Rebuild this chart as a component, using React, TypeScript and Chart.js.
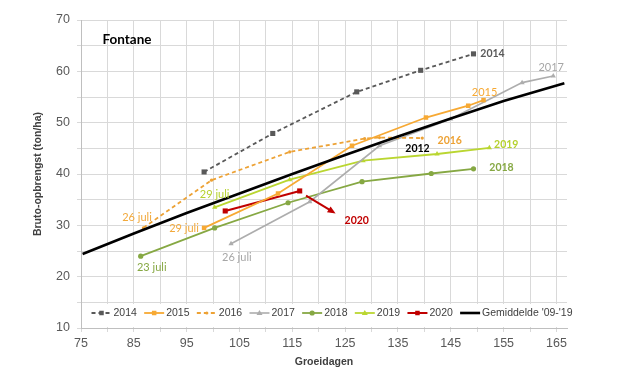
import React, { useEffect, useRef } from 'react';
import { Chart, registerables } from 'chart.js';
Chart.register(...registerables);

// ---- data ----
const days2014 = [98.3, 111.3, 127.2, 139.3, 149.3];
const yield2014 = [40.4, 47.9, 56.0, 60.2, 63.4];
const days2015 = [98.3, 112.3, 126.3, 140.3, 148.3, 151.2];
const yield2015 = [29.5, 36.2, 45.5, 51.0, 53.3, 54.4];
const days2016 = [86.8, 99.7, 114.5, 128.7, 131.5, 139.6];
const yield2016 = [29.5, 38.8, 44.3, 46.9, 47.1, 47.0];
const days2017 = [103.4, 118.3, 131.5, 145.0, 158.5, 164.4];
const yield2017 = [26.4, 34.6, 45.5, 50.7, 57.8, 59.1];
const days2018 = [86.3, 100.3, 114.2, 128.2, 141.3, 149.3];
const yield2018 = [24.0, 29.5, 34.4, 38.5, 40.1, 41.0];
const days2019 = [100.3, 114.5, 128.4, 142.4, 152.3];
const yield2019 = [33.5, 38.9, 42.6, 43.9, 45.1];
const days2020 = [102.3, 116.4];
const yield2020 = [32.8, 36.7];
const daysAvg = [75.3, 85, 95, 105, 115, 125, 135, 145, 155, 166.5];
const yieldAvg = [24.4, 28.4, 32.4, 36.2, 40.0, 43.7, 47.3, 50.8, 54.2, 57.7];

const seriesNames = ['2014', '2015', '2016', '2017', '2018', '2019', '2020', "Gemiddelde '09-'19"];
const xTickLabels = [75, 85, 95, 105, 115, 125, 135, 145, 155, 165];
const yTickLabels = [10, 20, 30, 40, 50, 60, 70];

// annotation texts and their data-space anchors
const noteTexts = ['Fontane', '2014', '2017', '2015', '2016', '2012', '2019', '2018', '2020', '26 juli', '29 juli', '29 juli', '23 juli', '26 juli'];
const noteDays = [83.7, 152.9, 164.0, 151.4, 144.8, 138.7, 155.5, 154.6, 127.2, 85.6, 100.3, 94.5, 88.4, 104.5];
const noteYields = [66.1, 63.4, 60.7, 55.9, 46.6, 45.0, 45.8, 41.2, 31.0, 31.5, 36.1, 29.4, 21.8, 23.7];
const arrow2020Days = [117.6, 123.2];
const arrow2020Yields = [35.8, 32.3];

// ---- styles ----
const seriesStyle = [
  { color: '#595959', dash: [4, 3], point: 'rect', r: 3.6, w: 1.8 },
  { color: '#F7A933', dash: [], point: 'rect', r: 3.2, w: 1.8 },
  { color: '#EDA235', dash: [4, 3], point: 'circle', r: 1.6, w: 1.8 },
  { color: '#ADADAD', dash: [], point: 'triangle', r: 3, w: 1.6 },
  { color: '#86A843', dash: [], point: 'circle', r: 2.6, w: 1.8 },
  { color: '#BAD631', dash: [], point: 'triangle', r: 3, w: 1.8 },
  { color: '#C00000', dash: [], point: 'rect', r: 3.6, w: 2 },
  { color: '#000000', dash: [], point: 'none', r: 0, w: 2.6 },
];
const noteStyle = [
  { color: '#000000', font: 'bold 13.5px Lato' },
  { color: '#595959', font: 'bold 10.5px Lato' },
  { color: '#A6A6A6', font: '11px Lato' },
  { color: '#F7A933', font: '11px Lato' },
  { color: '#EDA235', font: 'bold 10.5px Lato' },
  { color: '#000000', font: 'bold 10.5px Lato' },
  { color: '#B5D12E', font: 'bold 10.5px Lato' },
  { color: '#86A843', font: 'bold 10.5px Lato' },
  { color: '#C00000', font: 'bold 10.5px Lato' },
  { color: '#F2A93B', font: '11px Lato' },
  { color: '#B5D12E', font: '11px Lato' },
  { color: '#F2A93B', font: '11px Lato' },
  { color: '#86A843', font: '11px Lato' },
  { color: '#A6A6A6', font: '11px Lato' },
];

const pts = (xs: number[], ys: number[]) => xs.map((x, i) => ({ x, y: ys[i] }));
const allDays = [days2014, days2015, days2016, days2017, days2018, days2019, days2020, daysAvg];
const allYields = [yield2014, yield2015, yield2016, yield2017, yield2018, yield2019, yield2020, yieldAvg];

function drawMarker(ctx: CanvasRenderingContext2D, kind: string, x: number, y: number, r: number) {
  ctx.beginPath();
  if (kind === 'rect') {
    const s = r * 0.75;
    ctx.rect(x - s, y - s, 2 * s, 2 * s);
  } else if (kind === 'circle') {
    ctx.arc(x, y, r, 0, Math.PI * 2);
  } else if (kind === 'triangle') {
    ctx.moveTo(x, y - r);
    ctx.lineTo(x + r, y + r * 0.7);
    ctx.lineTo(x - r, y + r * 0.7);
    ctx.closePath();
  } else return;
  ctx.fill();
}

const overlayPlugin = {
  id: 'overlay',
  afterDatasetsDraw(chart: any) {
    const ctx: CanvasRenderingContext2D = chart.ctx;
    const xs = chart.scales.x;
    const ys = chart.scales.y;
    ctx.save();
    // annotation texts
    noteTexts.forEach((t, i) => {
      ctx.font = noteStyle[i].font;
      ctx.fillStyle = noteStyle[i].color;
      ctx.textAlign = 'center';
      ctx.textBaseline = 'middle';
      ctx.fillText(t, xs.getPixelForValue(noteDays[i]), ys.getPixelForValue(noteYields[i]));
    });
    // 2020 arrow
    const x1 = xs.getPixelForValue(arrow2020Days[0]);
    const y1 = ys.getPixelForValue(arrow2020Yields[0]);
    const x2 = xs.getPixelForValue(arrow2020Days[1]);
    const y2 = ys.getPixelForValue(arrow2020Yields[1]);
    const ang = Math.atan2(y2 - y1, x2 - x1);
    ctx.strokeStyle = '#C00000';
    ctx.fillStyle = '#C00000';
    ctx.lineWidth = 2;
    ctx.beginPath();
    ctx.moveTo(x1, y1);
    ctx.lineTo(x2 - 5 * Math.cos(ang), y2 - 5 * Math.sin(ang));
    ctx.stroke();
    ctx.beginPath();
    ctx.moveTo(x2, y2);
    ctx.lineTo(x2 - 8 * Math.cos(ang) + 3.5 * Math.sin(ang), y2 - 8 * Math.sin(ang) - 3.5 * Math.cos(ang));
    ctx.lineTo(x2 - 8 * Math.cos(ang) - 3.5 * Math.sin(ang), y2 - 8 * Math.sin(ang) + 3.5 * Math.cos(ang));
    ctx.closePath();
    ctx.fill();

    // legend inside plot area
    const area = chart.chartArea;
    ctx.fillStyle = '#ffffff';
    ctx.fillRect(area.left + 5, area.bottom - 24, area.right - area.left - 5, 23);
    ctx.font = '10.5px "Liberation Sans"';
    ctx.textBaseline = 'middle';
    ctx.textAlign = 'left';
    let lx = area.left + 10.5;
    const ly = area.bottom - 15;
    seriesNames.forEach((name, i) => {
      const st = seriesStyle[i];
      ctx.strokeStyle = st.color;
      ctx.lineWidth = st.w;
      ctx.setLineDash(st.dash.length ? [4, 3] : []);
      ctx.beginPath();
      ctx.moveTo(lx, ly);
      ctx.lineTo(lx + 20, ly);
      ctx.stroke();
      ctx.setLineDash([]);
      ctx.fillStyle = st.color;
      drawMarker(ctx, st.point, lx + 10, ly, Math.min(st.r, 3));
      ctx.fillStyle = '#404040';
      ctx.fillText(name, lx + 22, ly + 0.5);
      lx += 22 + ctx.measureText(name).width + 7.3;
    });
    ctx.restore();
  },
};

export default function App() {
  const ref = useRef<HTMLCanvasElement | null>(null);
  useEffect(() => {
    if (!ref.current) return;
    const datasets = seriesNames.map((name, i) => ({
      label: name,
      data: pts(allDays[i], allYields[i]),
      borderColor: seriesStyle[i].color,
      backgroundColor: seriesStyle[i].color,
      borderWidth: seriesStyle[i].w,
      borderDash: seriesStyle[i].dash,
      pointStyle: seriesStyle[i].point === 'none' ? false : seriesStyle[i].point,
      pointRadius: seriesStyle[i].r,
      pointBorderWidth: 0,
      showLine: true,
      tension: 0,
      order: i === 7 ? 0 : 1,
    }));
    const chart = new Chart(ref.current, {
      type: 'line',
      data: { datasets: datasets as any },
      plugins: [overlayPlugin],
      options: {
        animation: false,
        responsive: false,
        layout: { padding: { top: 20, right: 58, left: 0, bottom: 0 } },
        plugins: { legend: { display: false }, tooltip: { enabled: false } },
        scales: {
          x: {
            type: 'linear',
            min: 75,
            max: 167,
            afterFit: (s: any) => { s.height = 45; },
            afterBuildTicks: (s: any) => {
              const t: any[] = [];
              for (let v = 75; v <= 165; v += 5) t.push({ value: v });
              s.ticks = t;
            },
            ticks: {
              autoSkip: false,
              maxRotation: 0,
              padding: 4,
              color: '#595959',
              font: { family: 'Liberation Sans', size: 12.5 },
              callback: (v: any) => (xTickLabels.includes(Number(v)) ? String(v) : ''),
            },
            grid: { color: '#d9d9d9', tickLength: 4, drawTicks: true },
            border: { color: '#bfbfbf' },
            title: {
              display: true,
              text: 'Groeidagen',
              color: '#404040',
              font: { family: 'Liberation Sans', size: 10.5, weight: 'bold' },
              padding: { top: 0, bottom: 5 },
            },
          },
          y: {
            min: 10,
            max: 70,
            afterFit: (s: any) => { s.width = 81; },
            ticks: {
              stepSize: 5,
              padding: 7,
              color: '#595959',
              font: { family: 'Liberation Sans', size: 12.5 },
              callback: (v: any) => (yTickLabels.includes(Number(v)) ? String(v) : ''),
            },
            grid: { color: '#d9d9d9', tickLength: 4, drawTicks: true },
            border: { color: '#bfbfbf' },
            title: {
              display: true,
              text: 'Bruto-opbrengst (ton/ha)',
              color: '#404040',
              font: { family: 'Liberation Sans', size: 10.5, weight: 'bold' },
              padding: { top: 32, bottom: 0 },
            },
          },
        },
      } as any,
    });
    return () => chart.destroy();
  }, []);
  return (
    <div style={{ position: 'fixed', left: 0, top: 0, width: 625, height: 373, background: '#fff' }}>
      <canvas ref={ref} width={625} height={373} style={{ width: 625, height: 373 }} />
    </div>
  );
}
